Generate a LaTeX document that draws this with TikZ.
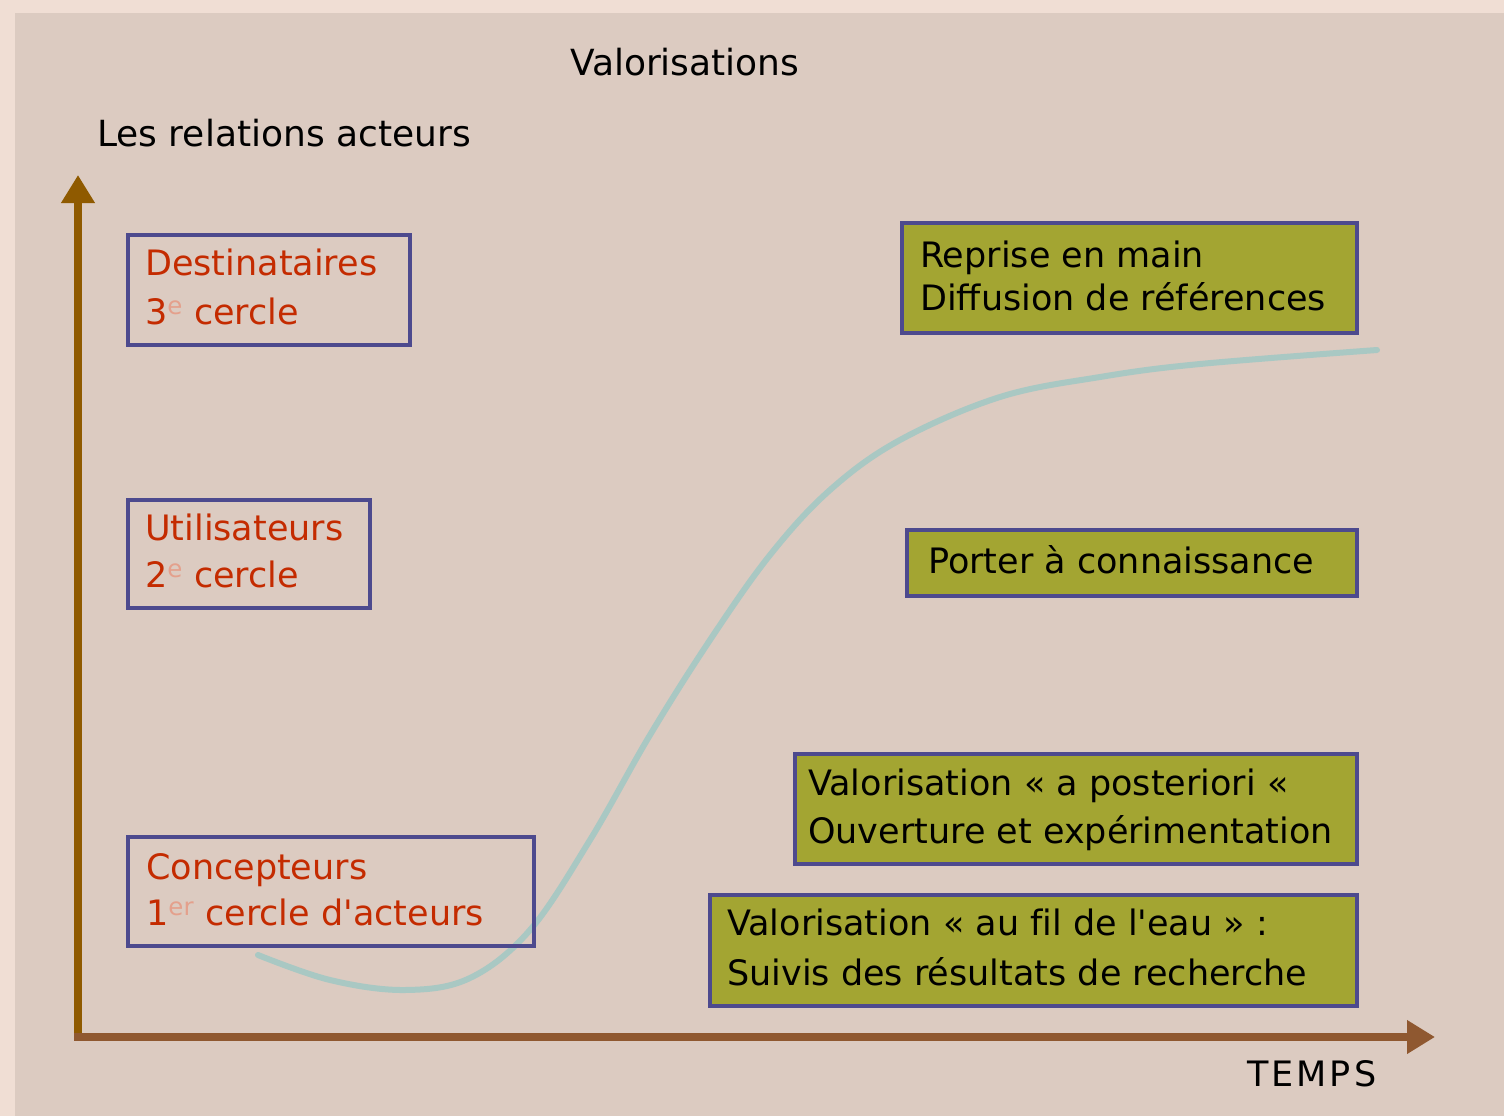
\documentclass[tikz,border=0pt]{standalone}
\usepackage{fontspec}
\setmainfont{DejaVu Sans}
\usetikzlibrary{arrows.meta}
\definecolor{outerbg}{RGB}{240,222,212}
\definecolor{innerbg}{RGB}{220,203,193}
\definecolor{vaxis}{RGB}{143,90,0}
\definecolor{haxis}{RGB}{143,88,48}
\definecolor{boxline}{RGB}{77,74,142}
\definecolor{olive}{RGB}{163,165,50}
\definecolor{redtext}{RGB}{196,43,0}
\definecolor{curvecol}{RGB}{169,200,195}
\tikzset{
  lbox/.style={draw=boxline, line width=3.5pt, fill=none, inner sep=0pt, anchor=north west},
  gbox/.style={draw=boxline, line width=3.5pt, fill=olive, inner sep=0pt, anchor=north west},
  redlbl/.style={text=redtext, inner sep=0pt, anchor=base west, align=left, font=\fontsize{35}{47}\selectfont},
  blklbl/.style={text=black, inner sep=0pt, anchor=base west, align=left, font=\fontsize{35}{47}\selectfont},
  plainlbl/.style={text=black, inner sep=0pt, anchor=base west, font=\fontsize{35}{42}\selectfont},
}
\newcommand{\pale}[1]{\textsuperscript{\textcolor{redtext!45}{#1}}}
\begin{document}
\begin{tikzpicture}[x=1pt,y=-1pt]
\useasboundingbox (0,0) rectangle (1504,1116);
\fill[outerbg] (0,0) rectangle (1504,1116);
\fill[innerbg] (15,13) rectangle (1504,1116);

% titles
\node[plainlbl, font=\fontsize{36}{42}\selectfont] (title) at (570,76) {Valorisations};
\node[plainlbl, font=\fontsize{36}{42}\selectfont] (ylab) at (97,146) {Les relations acteurs};
\node[plainlbl] (xlab) at (1247,1086) {T\kern3pt E\kern3pt M\kern3pt P\kern3pt S};

% axes
\coordinate (origin) at (78,1037);
\coordinate (ytip) at (78,175);
\coordinate (xtip) at (1435,1037);
\draw[vaxis, line width=8pt, -{Triangle[length=28pt,width=32pt]}] ([yshift=4pt]origin) -- (ytip);
\draw[haxis, line width=8pt, -{Triangle[length=28pt,width=32pt]}] ([xshift=-4pt]origin) -- (xtip);

% curve
\draw[curvecol, line width=6pt, line cap=round] plot[smooth, tension=0.6] coordinates {
 (258,955) (330,980) (405,990) (470,978) (530,930) (590,840) (650,735)
 (710,640) (770,555) (830,490) (900,440) (1000,397) (1100,377) (1200,364) (1377,350)};

% left boxes
\node[lbox, minimum width=282pt, minimum height=110pt] (dest) at (126,233) {};
\node[redlbl, font=\fontsize{35}{49}\selectfont] (destt) at (145,324) {Destinataires\\3\pale{e} cercle};
\node[lbox, minimum width=242pt, minimum height=108pt] (util) at (126,498) {};
\node[redlbl] (utilt) at (145,587) {Utilisateurs\\2\pale{e} cercle};
\node[lbox, minimum width=406pt, minimum height=109pt] (conc) at (126,835) {};
\node[redlbl, font=\fontsize{35}{46}\selectfont] (conct) at (146,925) {Concepteurs\\1\pale{er} cercle d\textquotesingle acteurs};

% right boxes
\node[gbox, minimum width=455pt, minimum height=110pt] (repr) at (900,221) {};
\node[blklbl, font=\fontsize{35}{43}\selectfont] (reprt) at (920,310) {Reprise en main\\Diffusion de références};
\node[gbox, minimum width=450pt, minimum height=66pt] (port) at (905,528) {};
\node[plainlbl] (portt) at (928,573) {Porter à connaissance};
\node[gbox, minimum width=562pt, minimum height=110pt] (post) at (793,752) {};
\node[blklbl, font=\fontsize{35}{48}\selectfont] (postt) at (808,843) {Valorisation « a posteriori «\\Ouverture et expérimentation};
\node[gbox, minimum width=647pt, minimum height=111pt] (fil) at (708,893) {};
\node[blklbl, font=\fontsize{35}{50}\selectfont] (filt) at (727,985) {Valorisation « au f\kern0pt il de l\textquotesingle eau » :\\Suivis des résultats de recherche};
\end{tikzpicture}
\end{document}
